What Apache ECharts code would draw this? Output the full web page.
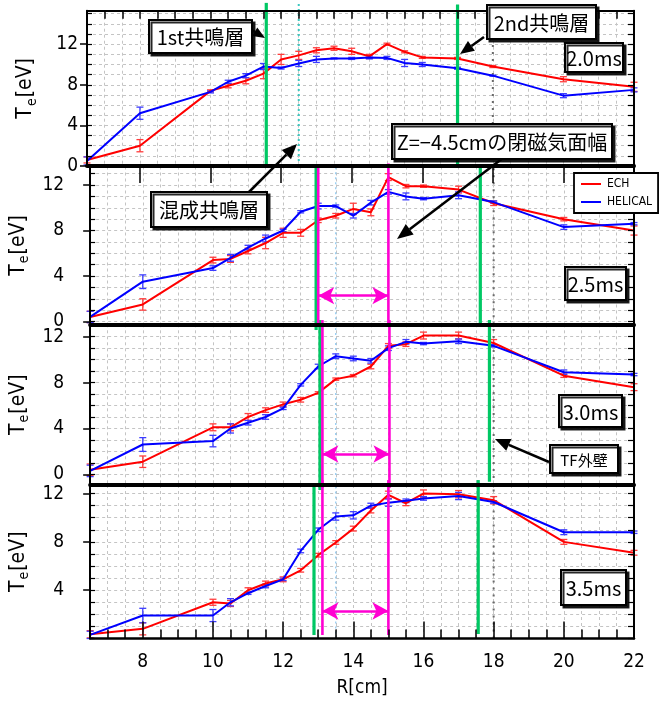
<!DOCTYPE html>
<html><head><meta charset="utf-8">
<script src="https://cdn.jsdelivr.net/npm/echarts@6/dist/echarts.min.js"></script>
<style>html,body{margin:0;padding:0;background:#fff}#c{width:669px;height:706px}</style>
</head><body><div id="c"></div>
<script>
// ---------------- data ----------------
const R = [6.5, 8, 10, 10.5, 11, 11.5, 12, 12.5, 13, 13.5, 14, 14.5, 15, 15.5, 16, 17, 18, 20, 22];
const timeLabels = ['2.0ms', '2.5ms', '3.0ms', '3.5ms'];

const ech20 = [0.6, 2.0, 7.4, 7.9, 8.4, 9.1, 10.5, 10.9, 11.4, 11.6, 11.3, 10.8, 12.0, 11.25, 10.7, 10.6, 9.8, 8.55, 7.8];
const hel20 = [0.5, 5.2, 7.3, 8.3, 8.9, 9.8, 9.65, 10.1, 10.5, 10.6, 10.6, 10.7, 10.65, 10.15, 10.0, 9.63, 8.9, 6.93, 7.5];
const ech25 = [0.4, 1.5, 5.4, 5.5, 6.2, 6.9, 7.8, 7.8, 8.9, 9.3, 9.9, 9.6, 12.7, 11.9, 11.9, 11.6, 10.4, 9.0, 8.0];
const hel25 = [0.4, 3.5, 4.7, 5.6, 6.5, 7.3, 8.0, 9.65, 10.15, 10.15, 9.3, 10.45, 11.4, 11.0, 10.8, 11.1, 10.5, 8.3, 8.6];
const ech30 = [0.4, 1.1, 4.1, 4.1, 5.0, 5.6, 6.1, 6.5, 7.1, 8.3, 8.6, 9.4, 11.2, 11.35, 12.1, 12.1, 11.45, 8.6, 7.6];
const hel30 = [0.3, 2.6, 2.9, 4.0, 4.5, 5.0, 5.75, 7.8, 9.4, 10.3, 10.1, 9.9, 11.0, 11.55, 11.4, 11.6, 11.2, 8.9, 8.7];
const ech35 = [0.35, 0.8, 3.0, 2.9, 4.0, 4.55, 4.9, 5.65, 6.9, 7.95, 9.1, 10.6, 11.9, 11.2, 12.0, 11.95, 11.45, 8.0, 7.1];
const hel35 = [0.3, 1.9, 1.9, 3.0, 3.75, 4.35, 4.9, 7.25, 9.0, 10.1, 10.2, 11.0, 11.25, 11.4, 11.6, 11.8, 11.3, 8.8, 8.8];

const echErr20 = [0.3, 0.6, 0.1, 0.2, 0.3, 0.5, 0.5, 0.4, 0.25, 0.2, 0.3, 0.2, 0.1, 0.1, 0.1, 0.1, 0.1, 0.25, 0.45];
const helErr20 = [0.4, 0.6, 0.1, 0.15, 0.2, 0.3, 0.1, 0.3, 0.3, 0.05, 0.1, 0.15, 0.15, 0.35, 0.2, 0.1, 0.05, 0.2, 0.2];
const echErr25 = [0.5, 0.5, 0.25, 0.3, 0.25, 0.5, 0.4, 0.3, 0.2, 0.2, 0.5, 0.3, 0.3, 0.15, 0.1, 0.3, 0.2, 0.15, 0.4];
const helErr25 = [0.5, 0.6, 0.2, 0.3, 0.2, 0.3, 0.1, 0.1, 0.25, 0.1, 0.2, 0.2, 0.2, 0.3, 0.1, 0.3, 0.1, 0.2, 0.1];
const echErr30 = [0.5, 0.5, 0.3, 0.3, 0.3, 0.2, 0.2, 0.2, 0.1, 0.1, 0.1, 0.2, 0.2, 0.2, 0.3, 0.3, 0.3, 0.15, 0.3];
const helErr30 = [0.5, 0.6, 0.5, 0.4, 0.2, 0.2, 0.1, 0.1, 0.2, 0.2, 0.2, 0.2, 0.2, 0.2, 0.1, 0.2, 0.1, 0.2, 0.1];
const echErr35 = [0.3, 0.5, 0.25, 0.25, 0.2, 0.2, 0.2, 0.15, 0.15, 0.15, 0.2, 0.2, 0.3, 0.2, 0.3, 0.3, 0.3, 0.2, 0.2];
const helErr35 = [0.3, 0.6, 0.5, 0.3, 0.1, 0.15, 0.1, 0.15, 0.15, 0.3, 0.3, 0.2, 0.3, 0.15, 0.15, 0.3, 0.1, 0.2, 0.1];

const xTickLabels = [8, 10, 12, 14, 16, 18, 20, 22];
const yTickLabels = [[0, 4, 8, 12], [0, 4, 8, 12], [0, 4, 8, 12], [4, 8, 12]];

// resonance / reference positions [cm]
const greenX = [[11.58, 17.0], [12.94, 17.62], [13.05, 17.88], [12.88, 17.56]];
const magentaX = [[], [13.0, 15.0], [13.12, 15.03], [13.12, 15.0]];
const arrowLevel = [null, 2.27, 1.77, 2.28];
const dottedX = [12.5, 13.5, 13.5, 13.5];
const wallX = 18;

// ---------------- layout ----------------
const panels = [
  {ech: ech20, hel: hel20, eErr: echErr20, hErr: helErr20, top: 10.7, bottom: 166, min: 0, max: 15.3},
  {ech: ech25, hel: hel25, eErr: echErr25, hErr: helErr25, top: 166.5, bottom: 324.3, min: -0.246, max: 13.63},
  {ech: ech30, hel: hel30, eErr: echErr30, hErr: helErr30, top: 324.3, bottom: 485, min: -0.93, max: 13.08},
  {ech: ech35, hel: hel35, eErr: echErr35, hErr: helErr35, top: 485, bottom: 638.5, min: 0, max: 12.71}
];
// vertical extents of the reference lines (value units, allowed to overshoot the frame)
const greenSpan = [[[0, 16.07], [0, 15.9]], [[-0.75, 13.63], [-0.46, 13.5]], [[-1.37, 13.45], [-0.65, 13.45]], [[0.29, 12.71], [0.37, 13.12]]];
const magentaSpan = [[], [[-0.246, 13.63], [-0.246, 13.9]], [[-1.19, 13.45], [-1.19, 13.45]], [[0.29, 13.12], [0.29, 13.12]]];
const dottedSpan = [[0, 16.2], [-0.246, 13.63], [-0.93, 13.08], [0, 12.71]];

const LEFT = 87, RIGHT = 634;
const NUMFONT = "'Liberation Sans Narrow','DejaVu Sans Condensed','Noto Sans CJK JP',sans-serif";
const JPFONT = "'Noto Sans CJK JP',sans-serif";
const RED = '#ff0000', BLUE = '#0000ff', GREEN = '#00c864', MAG = '#ff00d2';

const grid = [], xAxis = [], yAxis = [], series = [];

function errRender(params, api) {
  const x = api.value(0), lo = api.value(1), hi = api.value(2);
  const a = api.coord([x, lo]), b = api.coord([x, hi]);
  const w = 3.5;
  const style = {stroke: api.visual('color'), lineWidth: 1.3};
  return {type: 'group', children: [
    {type: 'line', shape: {x1: a[0], y1: a[1], x2: b[0], y2: b[1]}, style},
    {type: 'line', shape: {x1: a[0] - w, y1: a[1], x2: a[0] + w, y2: a[1]}, style},
    {type: 'line', shape: {x1: b[0] - w, y1: b[1], x2: b[0] + w, y2: b[1]}, style}
  ]};
}

panels.forEach((p, k) => {
  grid.push({left: LEFT, width: RIGHT - LEFT, top: p.top, height: p.bottom - p.top});
  const base = {gridIndex: k, type: 'value', min: 6.5, max: 22, interval: 0.5};
  // main x: vertical grid lines
  xAxis.push(Object.assign({}, base, {
    position: 'bottom', axisLine: {show: false}, axisTick: {show: false}, axisLabel: {show: false},
    splitLine: {show: true, lineStyle: {color: '#c4c4c4', type: [3, 3], width: 1}}
  }));
  // bottom frame (thick separators)
  xAxis.push(Object.assign({}, base, {
    position: 'bottom', z: 10,
    axisLine: {show: true, onZero: false, lineStyle: {color: '#000', width: k === 3 ? 2.5 : 4}},
    axisTick: {show: k === 3, inside: true, length: 9, lineStyle: {color: '#000', width: 1.5}},
    axisLabel: {show: k === 3, customValues: xTickLabels, margin: 14, fontSize: 19, color: '#000', fontFamily: NUMFONT},
    splitLine: {show: false},
    name: k === 3 ? 'R[cm]' : '', nameLocation: 'middle', nameGap: 40,
    nameTextStyle: {fontSize: 19, color: '#000', fontFamily: NUMFONT}
  }));
  // top frame (panel 1 only)
  xAxis.push(Object.assign({}, base, {
    position: 'top', z: 10, show: k === 0,
    axisLine: {show: true, onZero: false, lineStyle: {color: '#000', width: 2}},
    axisTick: {show: true, inside: true, length: 8, lineStyle: {color: '#000', width: 1.5}},
    axisLabel: {show: false}, splitLine: {show: false}
  }));
  // long ticks at even values
  xAxis.push(Object.assign({}, base, {
    position: k === 0 ? 'top' : 'bottom', z: 10, show: k === 0 || k === 3,
    axisLine: {show: false},
    axisTick: {show: true, inside: true, length: 17, customValues: xTickLabels, lineStyle: {color: '#000', width: 1.5}},
    axisLabel: {show: false}, splitLine: {show: false}
  }));

  const ybase = {gridIndex: k, type: 'value', min: p.min, max: p.max};
  const ints = [];
  for (let v = Math.ceil(p.min); v <= Math.floor(p.max); v++) ints.push(v);
  yAxis.push(Object.assign({}, ybase, {
    position: 'left', z: 10,
    axisLine: {show: true, onZero: false, lineStyle: {color: '#000', width: 2}},
    axisTick: {show: true, inside: false, length: 7, customValues: yTickLabels[k], lineStyle: {color: '#000', width: 1.5}},
    axisLabel: {customValues: yTickLabels[k], margin: k === 0 ? 9 : 26, fontSize: 19, color: '#000', fontFamily: NUMFONT},
    splitLine: {show: false},
    name: '{t|T}{s|e}{t|[eV]}', nameLocation: 'middle', nameRotate: 90, nameGap: 48,
    nameTextStyle: {color: '#000', fontFamily: NUMFONT, rich: {
      t: {fontSize: 21, fontFamily: NUMFONT, color: '#000'},
      s: {fontSize: 14, fontFamily: NUMFONT, color: '#000', padding: [12, 1, 0, 1]}
    }}
  }));
  yAxis.push(Object.assign({}, ybase, {
    position: 'right', z: 10,
    axisLine: {show: true, onZero: false, lineStyle: {color: '#000', width: 2}},
    axisTick: {show: true, inside: true, length: 6, customValues: ints, lineStyle: {color: '#000', width: 1.2}},
    axisLabel: {show: false}, splitLine: {show: false}
  }));
  yAxis.push(Object.assign({}, ybase, {
    position: 'left', z: 10,
    axisLine: {show: false},
    axisTick: {show: true, inside: true, length: 5, customValues: ints, lineStyle: {color: '#000', width: 1.2}},
    axisLabel: {show: false}, splitLine: {show: false}
  }));

  const xi = 4 * k, yi = 3 * k;
  // wall position line (also hosts the horizontal grid lines)
  series.push({
    type: 'line', name: 'wall', xAxisIndex: xi, yAxisIndex: yi, z: 1, silent: true, showSymbol: false, clip: false,
    data: [[wallX, p.min], [wallX, p.max]],
    lineStyle: {color: '#6a6a6a', width: 2, type: [2, 5]},
    markLine: {silent: true, symbol: ['none', 'none'], label: {show: false}, z: 0,
      lineStyle: {color: '#c4c4c4', type: [3, 3], width: 1},
      data: ints.map(v => ({yAxis: v}))}
  });
  // dotted reference line
  series.push({
    type: 'line', name: 'dot', xAxisIndex: xi, yAxisIndex: yi, z: 2, silent: true, showSymbol: false, clip: false,
    data: [[dottedX[k], dottedSpan[k][0]], [dottedX[k], dottedSpan[k][1]]],
    lineStyle: k === 0 ? {color: '#3cc8c0', width: 2, type: [2, 3]} : {color: '#8cc8f0', width: 1.2, type: [2, 3]}
  });
  // data lines
  series.push({type: 'line', name: 'ECH', xAxisIndex: xi, yAxisIndex: yi, z: 5, showSymbol: false, symbol: 'none',
    data: R.map((x, i) => [x, p.ech[i]]), color: RED, lineStyle: {color: RED, width: 2}});
  series.push({type: 'line', name: 'HELICAL', xAxisIndex: xi, yAxisIndex: yi, z: 5, showSymbol: false, symbol: 'none',
    data: R.map((x, i) => [x, p.hel[i]]), color: BLUE, lineStyle: {color: BLUE, width: 2}});
  // error bars
  series.push({type: 'custom', name: 'ECH err', xAxisIndex: xi, yAxisIndex: yi, z: 4, silent: true,
    renderItem: errRender, itemStyle: {color: '#ff3c3c'}, encode: {x: 0, y: [1, 2]},
    data: R.map((x, i) => [x, p.ech[i] - p.eErr[i], p.ech[i] + p.eErr[i]])});
  series.push({type: 'custom', name: 'HELICAL err', xAxisIndex: xi, yAxisIndex: yi, z: 4, silent: true,
    renderItem: errRender, itemStyle: {color: '#3c3cff'}, encode: {x: 0, y: [1, 2]},
    data: R.map((x, i) => [x, p.hel[i] - p.hErr[i], p.hel[i] + p.hErr[i]])});
  // green resonance lines
  greenX[k].forEach((gx, j) => series.push({
    type: 'line', name: 'res', xAxisIndex: xi, yAxisIndex: yi, z: 6, silent: true, showSymbol: false, clip: false,
    data: [[gx, greenSpan[k][j][0]], [gx, greenSpan[k][j][1]]], lineStyle: {color: GREEN, width: 3.2}
  }));
  // magenta closed-surface width lines
  magentaX[k].forEach((mx, j) => series.push({
    type: 'line', name: 'mag', xAxisIndex: xi, yAxisIndex: yi, z: 7, silent: true, showSymbol: false, clip: false,
    data: [[mx, magentaSpan[k][j][0]], [mx, magentaSpan[k][j][1]]], lineStyle: {color: MAG, width: 2.6},
    markLine: j === 0 ? {silent: true, symbol: ['arrow', 'arrow'], symbolSize: [13, 16], label: {show: false},
      lineStyle: {color: MAG, width: 2.6, type: 'solid'},
      data: [[{coord: [magentaX[k][0], arrowLevel[k]]}, {coord: [magentaX[k][1], arrowLevel[k]]}]]} : undefined
  }));
});

// ---------------- annotations ----------------
const graphic = [];
function box(x, y, w, h, text, size) {
  graphic.push({type: 'rect', z: 100, shape: {x, y, width: w, height: h},
    style: {fill: '#fff', stroke: '#000', lineWidth: 2, shadowColor: 'rgba(0,0,0,0.85)', shadowOffsetX: 2.5, shadowOffsetY: 2.5, shadowBlur: 0}});
  graphic.push({type: 'text', z: 101, style: {text, x: x + w / 2, y: y + h / 2 + 1, font: size + 'px ' + JPFONT,
    fill: '#000', align: 'center', verticalAlign: 'middle', textAlign: 'center', textVerticalAlign: 'middle'}});
}
function arrow(x1, y1, x2, y2, len, hw) {
  const dx = x2 - x1, dy = y2 - y1, d = Math.hypot(dx, dy), ux = dx / d, uy = dy / d;
  const bx = x2 - ux * len, by = y2 - uy * len;
  graphic.push({type: 'line', z: 99, shape: {x1, y1, x2: bx, y2: by}, style: {stroke: '#000', lineWidth: 2.5}});
  graphic.push({type: 'polygon', z: 99, shape: {points: [[x2, y2], [bx - uy * hw, by + ux * hw], [bx + uy * hw, by - ux * hw]]},
    style: {fill: '#000'}});
}
arrow(250, 29, 265, 38, 12, 5);
arrow(484, 37, 460, 54, 14, 6);
arrow(247, 194, 297, 144, 15, 6.5);
arrow(503, 158, 397, 239, 16, 6.5);
arrow(549, 462, 495, 439, 15, 6.5);
box(149, 20, 103, 33, '1st共鳴層', 20);
box(487, 5, 109, 34, '2nd共鳴層', 20);
box(565, 43, 58, 29, timeLabels[0], 20);
box(392, 124, 220, 35, 'Z=−4.5cmの閉磁気面幅', 20);
box(151, 192, 116, 35, '混成共鳴層', 20);
box(565, 267, 61, 33, timeLabels[1], 20);
box(559, 395, 63, 32, timeLabels[2], 20);
box(550, 445, 68, 28, 'TF外壁', 15);
box(561, 570, 65, 35, timeLabels[3], 20);

const chart = echarts.init(document.getElementById('c'), null, {renderer: 'canvas'});
chart.setOption({
  animation: false,
  backgroundColor: '#fff',
  grid, xAxis, yAxis, series, graphic,
  legend: {
    data: ['ECH', 'HELICAL'], left: 574, top: 173, orient: 'vertical', z: 50,
    icon: 'rect', itemWidth: 20, itemHeight: 2, itemGap: 6,
    padding: [5, 6, 5, 7], backgroundColor: '#fff', borderColor: '#000', borderWidth: 1.8,
    textStyle: {fontSize: 12, color: '#000', fontFamily: NUMFONT, padding: [0, 0, 0, 1]},
    selectedMode: false
  }
});
</script></body></html>
